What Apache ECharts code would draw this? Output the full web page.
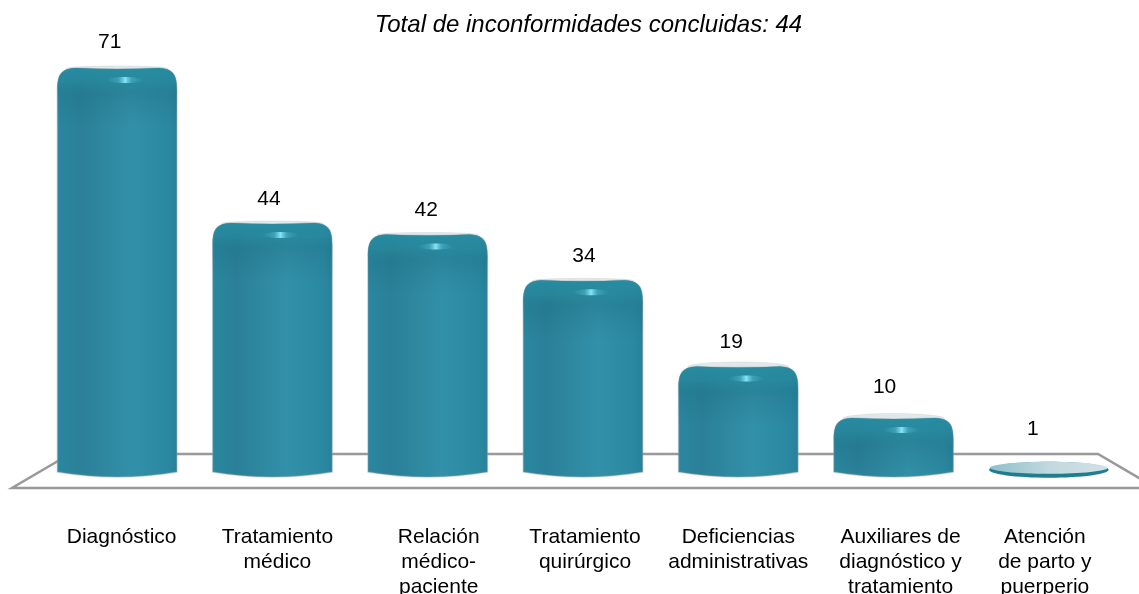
<!DOCTYPE html>
<html>
<head>
<meta charset="utf-8">
<script src="https://cdn.jsdelivr.net/npm/echarts@6/dist/echarts.min.js"></script>
<style>
  html, body { margin: 0; padding: 0; background: #fff; }
  #chart { width: 1139px; height: 594px; }
</style>
</head>
<body>
<div id="chart"></div>
<script>
const categories = [
  'Diagnóstico',
  'Tratamiento\nmédico',
  'Relación\nmédico-\npaciente',
  'Tratamiento\nquirúrgico',
  'Deficiencias\nadministrativas',
  'Auxiliares de\ndiagnóstico y\ntratamiento',
  'Atención\nde parto y\npuerperio'
];
const values = [71, 44, 42, 34, 19, 10, 1];
const titleText = 'Total de inconformidades concluidas: 44';

// the labels are not centred under the bars in the original (px to the right)
const labelShift = [4.5, 5, 11, 2, 0, 7, -4];
const valueShift = [-7.5, -3.5, -1.5, 1, -7, -9, -16];

const fontName = '"Liberation Sans", Arial, sans-serif';

const bodyFill = {
  type: 'linear', x: 0, y: 0, x2: 1, y2: 0,
  colorStops: [
    { offset: 0, color: '#2a87a0' },
    { offset: 0.2, color: '#2a8098' },
    { offset: 0.62, color: '#3290a8' },
    { offset: 0.92, color: '#2b88a1' },
    { offset: 1, color: '#27809a' }
  ]
};
const glintFill = {
  type: 'linear', x: 0, y: 0, x2: 1, y2: 0,
  colorStops: [
    { offset: 0, color: 'rgba(90,200,225,0)' },
    { offset: 0.32, color: 'rgba(100,205,228,0.35)' },
    { offset: 0.5, color: '#8ae4f3' },
    { offset: 0.68, color: 'rgba(100,205,228,0.35)' },
    { offset: 1, color: 'rgba(90,200,225,0)' }
  ]
};
const discFill = {
  type: 'linear', x: 0, y: 0, x2: 1, y2: 0,
  colorStops: [
    { offset: 0, color: '#8fbfca' },
    { offset: 0.5, color: '#c0d9df' },
    { offset: 1, color: '#d2e1e5' }
  ]
};

// darker band under the top edge, same path as the body so no hard edges show
function shadeFill(height) {
  const at = px => Math.min(1, px / height);
  return {
    type: 'linear', x: 0, y: 0, x2: 0, y2: 1,
    colorStops: [
      { offset: 0, color: 'rgba(38,140,160,0.9)' },
      { offset: at(14), color: 'rgba(38,135,155,0.7)' },
      { offset: at(32), color: 'rgba(25,105,125,0.22)' },
      { offset: at(60), color: 'rgba(25,105,125,0)' },
      { offset: 1, color: 'rgba(25,105,125,0)' }
    ]
  };
}

// one cylinder, the height comes from the value through the axis
function renderCylinder(params, api) {
  const idx = api.value(0);
  const top = api.coord([idx, api.value(1)]);
  const base = api.coord([idx, 0]);
  const w = api.size([1, 0])[0] * 0.77;
  const cx = top[0];
  const l = cx - w / 2;
  const r = cx + w / 2;
  const t = top[1];
  const b = base[1] + 1.5;
  const h = base[1] - t;
  const labelGap = h < 100 ? 22 + (100 - h) * 0.2 : (h > 300 ? 25.5 : 24);
  const label = {
    type: 'text',
    style: {
      text: String(api.value(1)),
      x: cx + valueShift[idx],
      y: t - labelGap,
      align: 'center',
      verticalAlign: 'middle',
      font: '21px ' + fontName,
      fill: '#000'
    }
  };

  // almost no height: only a flat disc
  if (h < 20) {
    return {
      type: 'group',
      children: [
        { type: 'ellipse', shape: { cx: cx, cy: t, rx: w / 2, ry: 8 }, style: { fill: '#1f7d92' } },
        { type: 'ellipse', shape: { cx: cx, cy: t - 2, rx: w / 2 - 1, ry: 6 }, style: { fill: discFill } },
        label
      ]
    };
  }

  const paleRy = h < 120 ? 5 : 2.5;
  const sh = Math.min(22, h * 0.4);
  const pathData = 'M' + l + ' ' + (b - 5) +
    ' Q' + cx + ' ' + (b + 5) + ' ' + r + ' ' + (b - 5) +
    ' L' + r + ' ' + (t + sh) +
    ' C' + r + ' ' + (t + 6) + ' ' + (r - 4) + ' ' + (t + 1) + ' ' + (r - 18) + ' ' + t +
    ' Q' + cx + ' ' + (t + 2) + ' ' + (l + 18) + ' ' + t +
    ' C' + (l + 4) + ' ' + (t + 1) + ' ' + l + ' ' + (t + 6) + ' ' + l + ' ' + (t + sh) + ' Z';
  const pathShape = { pathData: pathData, x: l, y: t, width: w, height: b - t, layout: 'cover' };

  return {
    type: 'group',
    children: [
      { type: 'ellipse', shape: { cx: cx, cy: t + 0.5, rx: w / 2 - 9, ry: paleRy }, style: { fill: '#dfe9ec', stroke: '#d4d4d4', lineWidth: 0.5 } },
      { type: 'path', shape: pathShape, style: { fill: bodyFill, stroke: 'rgba(150,160,165,0.4)', lineWidth: 1.5 } },
      { type: 'path', shape: pathShape, style: { fill: shadeFill(b - t) } },
      { type: 'ellipse', shape: { cx: cx + 8, cy: t + 12, rx: 18, ry: 3 }, style: { fill: glintFill } },
      label
    ]
  };
}

const chart = echarts.init(document.getElementById('chart'), null, { renderer: 'canvas' });

chart.setOption({
  animation: false,
  backgroundColor: '#ffffff',
  title: {
    text: titleText,
    left: 583.5,
    top: 8,
    textAlign: 'center',
    textStyle: {
      fontFamily: fontName,
      fontStyle: 'italic',
      fontWeight: 'normal',
      fontSize: 24,
      color: '#000'
    }
  },
  // last label line runs off the page in the original, so no auto shrink
  grid: { left: 39.5, right: 12.5, top: 68, bottom: 118.5, outerBoundsMode: 'none' },
  xAxis: {
    type: 'category',
    data: categories.map((c, i) => ({
      value: c,
      textStyle: {
        padding: labelShift[i] > 0 ? [0, 0, 0, labelShift[i] * 2] : [0, -labelShift[i] * 2, 0, 0]
      }
    })),
    axisLine: { show: false },
    axisTick: { show: false },
    axisLabel: {
      interval: 0,
      margin: 49,
      fontFamily: fontName,
      fontSize: 21,
      lineHeight: 25,
      color: '#000',
      verticalAlign: 'top'
    }
  },
  yAxis: {
    type: 'value',
    min: 0,
    max: 71,
    show: false,
    splitLine: { show: false }
  },
  // the grey floor the cylinders stand on
  graphic: [{
    type: 'polygon',
    z: 0,
    shape: { points: [[70, 454], [1098, 454], [1156, 488], [12, 488]] },
    style: { fill: 'transparent', stroke: '#999999', lineWidth: 2.5 }
  }],
  series: [{
    type: 'custom',
    z: 5,
    renderItem: renderCylinder,
    encode: { x: 0, y: 1 },
    data: values.map((v, i) => [i, v])
  }]
});
</script>
</body>
</html>
